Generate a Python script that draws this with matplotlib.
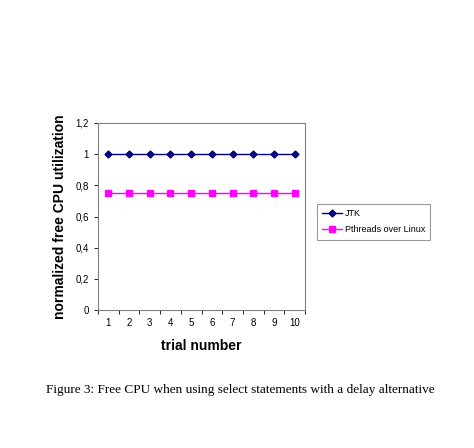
import matplotlib
matplotlib.use("Agg")
import matplotlib.pyplot as plt
from matplotlib.ticker import FuncFormatter

plt.rcParams['font.family'] = ['Liberation Sans', 'DejaVu Sans']

trials = [1, 2, 3, 4, 5, 6, 7, 8, 9, 10]
jtk = [1, 1, 1, 1, 1, 1, 1, 1, 1, 1]
pthreads = [0.75, 0.75, 0.75, 0.75, 0.75, 0.75, 0.75, 0.75, 0.75, 0.75]
y_ticks = [0, 0.2, 0.4, 0.6, 0.8, 1, 1.2]

W, H = 474, 448
fig = plt.figure(figsize=(W / 100, H / 100), dpi=100)
ax = fig.add_axes([98 / W, 1 - 310 / H, (305 - 98) / W, (310 - 123) / H])

ax.plot(trials, jtk, color="#000080", marker="D", markersize=3.5, linewidth=1, label="JTK")
ax.plot(trials, pthreads, color="#FF00FF", marker="s", markersize=5, linewidth=1,
        label="Pthreads over Linux")

ax.set_xlim(0.5, 10.5)
ax.set_ylim(0, 1.2)
ax.set_yticks(y_ticks)
ax.yaxis.set_major_formatter(FuncFormatter(lambda v, p: ("%g" % v).replace(".", ",")))
ax.set_xticks(trials)
ax.set_xticks([t + 0.5 for t in [0] + trials], minor=True)
ax.tick_params(axis="x", which="major", length=0, labelsize=7, pad=6)
ax.tick_params(axis="x", which="minor", length=3, direction="out", width=0.6)
ax.tick_params(axis="y", length=3, direction="out", width=0.6, labelsize=7)
for s in ax.spines.values():
    s.set_color("#808080")
    s.set_linewidth(0.8)

ax.set_xlabel("trial number", fontsize=10, fontweight="bold", labelpad=8)
ax.set_ylabel("normalized free CPU utilization", fontsize=10, fontweight="bold", labelpad=6)

leg = fig.legend(loc="upper left", bbox_to_anchor=(312 / W, 1 - 199 / H), fontsize=6.5,
                 frameon=True, fancybox=False, borderpad=0.6, handlelength=2.2,
                 labelspacing=0.8, handletextpad=0.3)
leg.get_frame().set_edgecolor("#808080")
leg.get_frame().set_linewidth(0.8)

fig.text(240 / W, 1 - 390 / H, "Figure 3: Free CPU when using select statements with a delay alternative",
         ha="center", va="center", fontsize=9.5, family="Liberation Serif")

fig.savefig("out.png", dpi=100)
